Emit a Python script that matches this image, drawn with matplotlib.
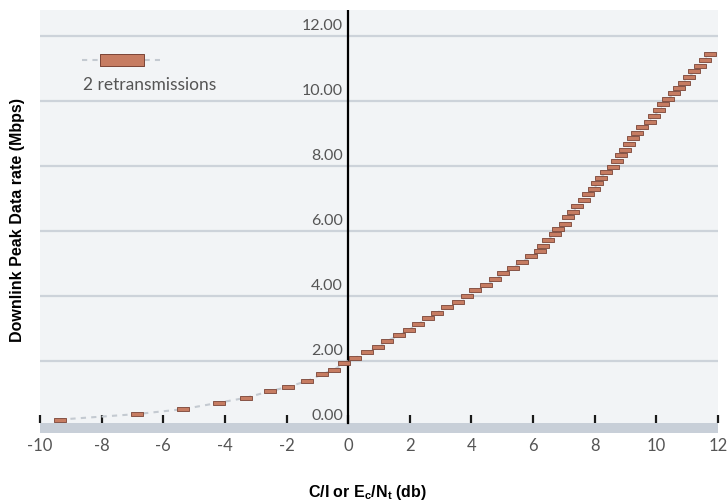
import matplotlib
matplotlib.use("Agg")
import matplotlib.pyplot as plt
from matplotlib.path import Path
from matplotlib.lines import Line2D
from matplotlib.transforms import offset_copy

# C/I (dB) -> downlink peak rate (Mbps), 2 retransmissions
ci_db = [-9.35, -6.85, -5.36, -4.19, -3.32, -2.55, -1.94, -1.32, -0.85, -0.45,
         -0.15, 0.23, 0.60, 0.97, 1.27, 1.66, 1.97, 2.27, 2.60, 2.89,
         3.21, 3.57, 3.85, 4.11, 4.48, 4.77, 5.04, 5.34, 5.64, 5.94,
         6.23, 6.31, 6.48, 6.70, 6.81, 7.03, 7.12, 7.31, 7.42, 7.64,
         7.77, 7.97, 8.09, 8.20, 8.36, 8.60, 8.72, 8.86, 8.99, 9.12,
         9.23, 9.36, 9.53, 9.78, 9.94, 10.07, 10.21, 10.38, 10.56, 10.72,
         10.89, 11.07, 11.23, 11.41, 11.57, 11.75]
rate_mbps = [0.20, 0.37, 0.52, 0.72, 0.87, 1.07, 1.21, 1.39, 1.59, 1.74,
             1.93, 2.10, 2.27, 2.44, 2.63, 2.79, 2.96, 3.14, 3.31, 3.49,
             3.66, 3.83, 4.00, 4.18, 4.35, 4.52, 4.70, 4.87, 5.05, 5.22,
             5.38, 5.55, 5.72, 5.90, 6.07, 6.23, 6.42, 6.60, 6.78, 6.95,
             7.13, 7.30, 7.47, 7.64, 7.82, 7.98, 8.16, 8.34, 8.50, 8.68,
             8.85, 9.02, 9.19, 9.36, 9.54, 9.72, 9.90, 10.05, 10.24, 10.41,
             10.57, 10.75, 10.92, 11.09, 11.26, 11.45]
x_ticks = [-10, -8, -6, -4, -2, 0, 2, 4, 6, 8, 10, 12]
y_ticks = [0, 2, 4, 6, 8, 10, 12]
series_label = "2 retransmissions"

BG = "#F2F4F6"
GRID = "#CDD3DA"
BAND = "#C8CFD8"
DASH = "#C4CAD1"
BOX_FACE = "#C67C62"
BOX_EDGE = "#7A4436"
TXT = "#555555"
LABEL_FONT = ["Lato", "DejaVu Sans"]

plt.rcParams["mathtext.fontset"] = "custom"
plt.rcParams["mathtext.rm"] = "Liberation Sans:bold"
plt.rcParams["mathtext.it"] = "Liberation Sans:bold"
plt.rcParams["mathtext.bf"] = "Liberation Sans:bold"


def box_marker(half_h):
    # flat rectangle marker, width == markersize
    return Path([(-1, -half_h), (1, -half_h), (1, half_h), (-1, half_h), (-1, -half_h)],
                [Path.MOVETO, Path.LINETO, Path.LINETO, Path.LINETO, Path.CLOSEPOLY])


fig = plt.figure(figsize=(7.27, 5.03), dpi=100)
ax = fig.add_axes([0.055, 0.140, 0.9326, 0.840])
ax.set_facecolor(BG)
ax.set_xlim(-10, 12)
ax.set_ylim(-0.2, 12.8)
for s in ax.spines.values():
    s.set_visible(False)

# grid + band at zero
for v in y_ticks[1:]:
    ax.axhline(v, color=GRID, lw=1.6, zorder=1)
ax.axhspan(-0.2, 0.09, color=BAND, lw=0, zorder=1)
ax.axvline(0, ymin=(0.09 + 0.2) / 13.0, ymax=1, color="black", lw=1.6, zorder=2)

# x ticks sit on top of the band
ax.spines["bottom"].set_position(("data", 0.09))
ax.set_xticks(x_ticks)
ax.set_xticklabels([str(t) for t in x_ticks])
ax.tick_params(axis="x", direction="in", length=6, width=1.6, color="#1a1a1a",
               pad=11, labelsize=12, labelcolor=TXT)
for lab in ax.get_xticklabels():
    lab.set_family(LABEL_FONT)

# y tick labels drawn next to the zero line, above the grid lines
ax.set_yticks([])
lab_tr = offset_copy(ax.transData, fig=fig, x=-5, y=6, units="dots")
for v in y_ticks:
    ax.text(0, v, f"{v:.2f}", transform=lab_tr, ha="right", va="baseline",
            fontsize=11.5, color=TXT, family=LABEL_FONT, zorder=3)

# data
ax.plot(ci_db, rate_mbps, ls=(0, (2.5, 2.5)), lw=1.5, color=DASH, zorder=3)
ax.plot(ci_db, rate_mbps, ls="none", marker=box_marker(0.38), markersize=8.6,
        markerfacecolor=BOX_FACE, markeredgecolor=BOX_EDGE, markeredgewidth=0.6,
        zorder=4)

# legend, drawn by hand: sample on top, label underneath
ax.add_line(Line2D([0.062, 0.177], [0.882, 0.882], transform=ax.transAxes,
                   ls=(0, (2.5, 2.5)), lw=1.5, color=DASH, zorder=3))
ax.add_line(Line2D([0.1215], [0.882], transform=ax.transAxes, ls="none",
                   marker=box_marker(0.30), markersize=31,
                   markerfacecolor=BOX_FACE, markeredgecolor=BOX_EDGE,
                   markeredgewidth=0.7, zorder=4))
ax.text(0.063, 0.822, series_label, transform=ax.transAxes, ha="left",
        va="center", fontsize=12.5, color=TXT, family=LABEL_FONT)

ax.set_ylabel("Downlink Peak Data rate (Mbps)", fontsize=11.5, fontweight="bold",
              family="Liberation Sans", labelpad=0)
ax.yaxis.set_label_coords(-0.022, 0.503)
fig.text(0.506, 0.02, r"C/I or E$_\mathbf{c}$/N$_\mathbf{t}$ (db)", ha="center",
         va="center", fontsize=11.5, fontweight="bold", family="Liberation Sans")

fig.savefig("out.png", dpi=100, facecolor="white")
